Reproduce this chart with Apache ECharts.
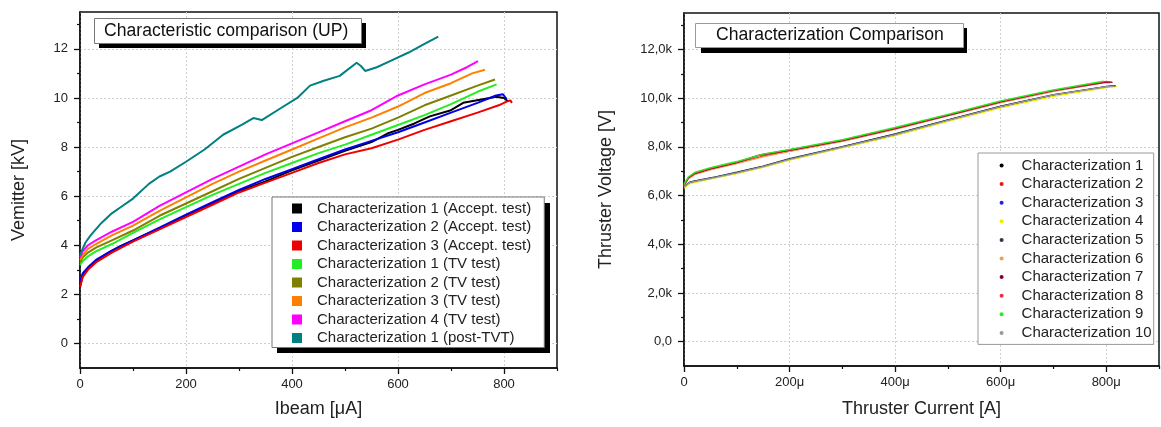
<!DOCTYPE html>
<html><head><meta charset="utf-8">
<script src="https://cdn.jsdelivr.net/npm/echarts@6/dist/echarts.min.js"></script>
<style>html,body{margin:0;padding:0;background:#fff}#c{width:1161px;height:427px}</style>
</head><body><div id="c"></div>
<script>
// ---------- Left chart data: [Ibeam µA, Vemitter kV] ----------
const leftNames = ['Characterization 1 (Accept. test)','Characterization 2 (Accept. test)','Characterization 3 (Accept. test)','Characterization 1 (TV test)','Characterization 2 (TV test)','Characterization 3 (TV test)','Characterization 4 (TV test)','Characterization 1 (post-TVT)'];
const leftColors = ['#000000','#0000ee','#ee0000','#22ee22','#808000','#ff8000','#ff00ff','#008080'];
const accept1 = [[0,2.3],[5,2.75],[15,3.05],[30,3.35],[50,3.65],[75,3.95],[100,4.2],[150,4.7],[200,5.2],[250,5.7],[300,6.2],[350,6.6],[400,7.05],[450,7.45],[500,7.85],[550,8.2],[580,8.55],[600,8.7],[630,8.95],[660,9.25],[700,9.5],[723,9.8],[760,9.95],[785,10.05],[800,10.0],[808,9.85]];
const accept2 = [[0,2.5],[5,2.85],[15,3.1],[30,3.4],[60,3.78],[100,4.2],[150,4.72],[200,5.25],[250,5.75],[300,6.25],[350,6.7],[400,7.1],[450,7.5],[500,7.9],[550,8.25],[600,8.6],[650,9.0],[700,9.4],[750,9.8],[785,10.1],[798,10.15],[805,9.95]];
const accept3 = [[0,2.3],[5,2.7],[15,3.0],[30,3.3],[60,3.7],[100,4.15],[150,4.65],[200,5.15],[250,5.65],[300,6.15],[350,6.55],[400,6.95],[450,7.35],[500,7.7],[550,7.95],[600,8.3],[650,8.7],[700,9.05],[750,9.4],[790,9.7],[805,9.85],[812,9.9],[815,9.8]];
const tv1 = [[0,3.2],[5,3.35],[15,3.55],[30,3.75],[60,4.05],[100,4.5],[150,5.05],[200,5.55],[250,6.05],[300,6.5],[350,6.95],[400,7.35],[450,7.75],[500,8.1],[550,8.5],[600,8.9],[650,9.3],[700,9.75],[750,10.25],[786,10.55]];
const tv2 = [[0,3.3],[5,3.5],[15,3.7],[30,3.9],[60,4.2],[100,4.6],[150,5.2],[200,5.7],[250,6.2],[300,6.7],[350,7.15],[400,7.6],[450,8.0],[500,8.4],[550,8.75],[600,9.2],[650,9.7],[700,10.1],[750,10.5],[783,10.75]];
const tv3 = [[0,3.4],[5,3.6],[15,3.85],[30,4.05],[60,4.4],[100,4.8],[150,5.4],[200,5.95],[250,6.5],[300,7.0],[350,7.45],[400,7.9],[450,8.35],[500,8.8],[550,9.2],[600,9.65],[650,10.2],[700,10.6],[740,11.0],[764,11.15]];
const tv4 = [[0,3.5],[5,3.75],[15,4.0],[30,4.2],[60,4.55],[100,4.95],[150,5.6],[200,6.15],[250,6.7],[300,7.2],[350,7.7],[400,8.15],[450,8.6],[500,9.05],[550,9.5],[600,10.1],[650,10.55],[700,10.95],[730,11.25],[751,11.5]];
const postTvt = [[0,3.6],[5,3.85],[10,4.1],[20,4.4],[40,4.9],[60,5.3],[80,5.6],[100,5.9],[130,6.5],[150,6.8],[170,7.0],[200,7.4],[235,7.9],[270,8.5],[305,8.9],[327,9.18],[343,9.1],[380,9.6],[410,10.0],[434,10.5],[460,10.7],[490,10.9],[522,11.43],[530,11.3],[538,11.1],[560,11.25],[585,11.5],[620,11.85],[650,12.2],[676,12.5]];
const leftSeriesData = [accept1, accept2, accept3, tv1, tv2, tv3, tv4, postTvt];

// ---------- Right chart data: [Thruster current µA, Thruster voltage V] ----------
const rightNames = ['Characterization 1','Characterization 2','Characterization 3','Characterization 4','Characterization 5','Characterization 6','Characterization 7','Characterization 8','Characterization 9','Characterization 10'];
const rightColors = ['#000000','#ee1111','#2222dd','#eeee00','#2a3550','#f0a050','#800030','#e8304a','#22ee22','#999999'];
const char1 = [[0,6320],[10,6520],[25,6600],[50,6700],[100,6920],[150,7180],[200,7480],[300,7980],[400,8480],[500,9080],[600,9640],[700,10120],[800,10460],[812,10500]];
const char2 = [[0,6400],[8,6700],[20,6880],[50,7080],[100,7330],[150,7620],[200,7830],[300,8240],[400,8740],[500,9280],[600,9830],[700,10290],[800,10650],[808,10640]];
const char3 = [[0,6350],[10,6540],[30,6630],[60,6760],[100,6940],[150,7200],[200,7500],[300,8000],[400,8520],[500,9100],[600,9660],[700,10130],[790,10440],[815,10510]];
const char4 = [[0,6300],[10,6480],[30,6580],[60,6730],[100,6900],[150,7160],[200,7460],[300,7960],[400,8460],[500,9050],[600,9600],[700,10080],[800,10440],[820,10480]];
const char5 = [[0,6380],[12,6560],[30,6640],[60,6770],[100,6960],[150,7210],[200,7520],[300,8010],[400,8530],[500,9110],[600,9670],[700,10150],[800,10480],[818,10520]];
const char6 = [[0,6380],[8,6680],[20,6860],[50,7060],[100,7310],[150,7590],[200,7820],[300,8230],[400,8720],[500,9270],[600,9820],[700,10280],[790,10640]];
const char7 = [[0,6420],[8,6720],[20,6900],[50,7100],[100,7350],[140,7640],[200,7860],[300,8260],[400,8750],[500,9300],[600,9850],[700,10310],[800,10670],[812,10650]];
const char8 = [[0,6440],[8,6740],[20,6920],[50,7120],[100,7370],[145,7680],[200,7880],[300,8280],[400,8770],[500,9320],[600,9870],[700,10320],[800,10690],[810,10660]];
const char9 = [[0,6460],[8,6760],[20,6950],[50,7150],[100,7400],[150,7700],[200,7900],[300,8300],[400,8800],[500,9340],[600,9890],[700,10340],[795,10700]];
const char10 = [[0,6340],[10,6530],[30,6620],[60,6750],[100,6930],[150,7190],[200,7490],[300,7990],[400,8500],[500,9090],[600,9650],[700,10140],[800,10470],[815,10500]];
const rightSeriesData = [char1,char2,char3,char4,char5,char6,char7,char8,char9,char10];

// ---------- Ticks ----------
const leftXMajor = [0,200,400,600,800];
const leftXMinor = [100,300,500,700,900];
const leftYMajor = [0,2,4,6,8,10,12];
const leftYMinor = [1,3,5,7,9,11,13];
const rightXMajor = [0,200,400,600,800];
const rightXMinor = [100,300,500,700,900];
const rightYMajor = [0,2000,4000,6000,8000,10000,12000];
const rightYMinor = [1000,3000,5000,7000,9000,11000,13000];

const FONT = 'Liberation Sans, Arial, Helvetica, sans-serif';
const TXT = '#222';
const AX = {lineStyle:{color:'#111',width:1.5}};

function mainX(grid, major, fmt, name, gap, fs){
  return {type:'value', gridIndex:grid, min:0, max:900, interval:100, position:'bottom',
    axisLine:{show:true, onZero:false, ...AX},
    axisTick:{show:true, customValues:major, length:6, lineStyle:{color:'#111',width:1.3}},
    axisLabel:{customValues:major, formatter:fmt, color:TXT, fontSize:fs, fontFamily:FONT, margin:10},
    splitLine:{show:true, lineStyle:{color:'#cfcfcf', type:[2,2], width:1}},
    name:name, nameLocation:'middle', nameGap:gap, nameTextStyle:{fontSize:18, color:TXT, fontFamily:FONT}};
}
function minorX(grid, minor){
  return {type:'value', gridIndex:grid, min:0, max:900, interval:100, position:'bottom',
    axisLine:{show:false, onZero:false}, axisTick:{show:true, customValues:minor, length:3, lineStyle:{color:'#111',width:1.2}},
    axisLabel:{show:false}, splitLine:{show:false}};
}
function mainY(grid, min, max, itv, major, fmt, name, gap, fs){
  return {type:'value', gridIndex:grid, min:min, max:max, interval:itv, position:'left',
    axisLine:{show:true, onZero:false, ...AX},
    axisTick:{show:true, customValues:major, length:6, lineStyle:{color:'#111',width:1.3}},
    axisLabel:{customValues:major, formatter:fmt, color:TXT, fontSize:fs, fontFamily:FONT, margin:12},
    splitLine:{show:true, lineStyle:{color:'#cfcfcf', type:[2,2], width:1}},
    name:name, nameLocation:'middle', nameGap:gap, nameTextStyle:{fontSize:18, color:TXT, fontFamily:FONT}};
}
function minorY(grid, min, max, itv, minor){
  return {type:'value', gridIndex:grid, min:min, max:max, interval:itv, position:'left',
    axisLine:{show:false, onZero:false}, axisTick:{show:true, customValues:minor, length:3, lineStyle:{color:'#111',width:1.2}},
    axisLabel:{show:false}, splitLine:{show:false}};
}

const series = [];
leftSeriesData.forEach((d,i)=>{
  series.push({type:'line', name:leftNames[i], xAxisIndex:0, yAxisIndex:0, data:d, showSymbol:false, symbol:'none',
    lineStyle:{color:leftColors[i], width:2}, itemStyle:{color:leftColors[i]}, animation:false, z:2});
});
rightSeriesData.forEach((d,i)=>{
  series.push({type:'line', name:rightNames[i], xAxisIndex:2, yAxisIndex:2, data:d, showSymbol:false, symbol:'none',
    lineStyle:{color:rightColors[i], width:1.3}, itemStyle:{color:rightColors[i]}, animation:false, z:2});
});

const chart = echarts.init(document.getElementById('c'), null, {renderer:'canvas'});
chart.setOption({
  animation:false,
  backgroundColor:'#ffffff',
  graphic:[
    {type:'rect', z:5, silent:true, shape:{x:99, y:23, width:267, height:25}, style:{fill:'#000'}},
    {type:'rect', z:5, silent:true, shape:{x:277, y:203, width:273, height:150}, style:{fill:'#000'}},
    {type:'rect', z:5, silent:true, shape:{x:701, y:28, width:266, height:25}, style:{fill:'#000'}}
  ],
  title:[
    {text:'Characteristic comparison (UP)', left:94, top:18, padding:[4,13,4,10], z:8,
      backgroundColor:'#fff', borderColor:'#777', borderWidth:1,
      textStyle:{fontSize:17.6, fontWeight:'normal', color:'#111', fontFamily:FONT}},
    {text:'Characterization Comparison', left:695, top:23, padding:[3,20,4,21], z:8,
      backgroundColor:'#fff', borderColor:'#999', borderWidth:1,
      textStyle:{fontSize:17.6, fontWeight:'normal', color:'#111', fontFamily:FONT}}
  ],
  legend:[
    {data:leftNames.map((n,i)=>({name:n, icon:'rect', itemStyle:{color:leftColors[i]}})),
      orient:'vertical', left:272, top:197, itemWidth:10, itemHeight:10, itemGap:3.5,
      padding:[4,13,2,20],
      backgroundColor:'#fff', borderColor:'#777', borderWidth:1,
      textStyle:{fontSize:15, color:TXT, fontFamily:FONT, padding:[0,0,0,10]}, selectedMode:false, z:10},
    {data:rightNames.map((n,i)=>({name:n, icon:'circle', itemStyle:{color:rightColors[i]}})),
      orient:'vertical', left:978, top:153, itemWidth:4, itemHeight:4, itemGap:3.6,
      padding:[5,2,4,21.6],
      backgroundColor:'#fff', borderColor:'#999', borderWidth:1,
      textStyle:{fontSize:15, color:TXT, fontFamily:FONT, padding:[0,0,0,13]}, selectedMode:false, z:10}
  ],
  grid:[
    {left:80, right:604, top:12, bottom:59, show:true, borderColor:'#111', borderWidth:1.5, backgroundColor:'#fff', containLabel:false},
    {left:684, right:2, top:13, bottom:61, show:true, borderColor:'#111', borderWidth:1.5, backgroundColor:'#fff', containLabel:false}
  ],
  xAxis:[
    mainX(0, leftXMajor, v=>String(v), 'Ibeam [μA]', 32, 13),
    minorX(0, leftXMinor),
    mainX(1, rightXMajor, v=> v===0 ? '0' : v+'μ', 'Thruster Current [A]', 34, 13),
    minorX(1, rightXMinor)
  ],
  yAxis:[
    mainY(0, -1, 13.5, 0.5, leftYMajor, v=>String(v), 'Vemitter [kV]', 52, 13),
    minorY(0, -1, 13.5, 0.5, leftYMinor),
    mainY(1, -1000, 13500, 500, rightYMajor, v=> v===0 ? '0,0' : (v/1000).toFixed(1).replace('.',',')+'k', 'Thruster Voltage [V]', 69, 13),
    minorY(1, -1000, 13500, 500, rightYMinor)
  ],
  series: series
});
</script></body></html>
